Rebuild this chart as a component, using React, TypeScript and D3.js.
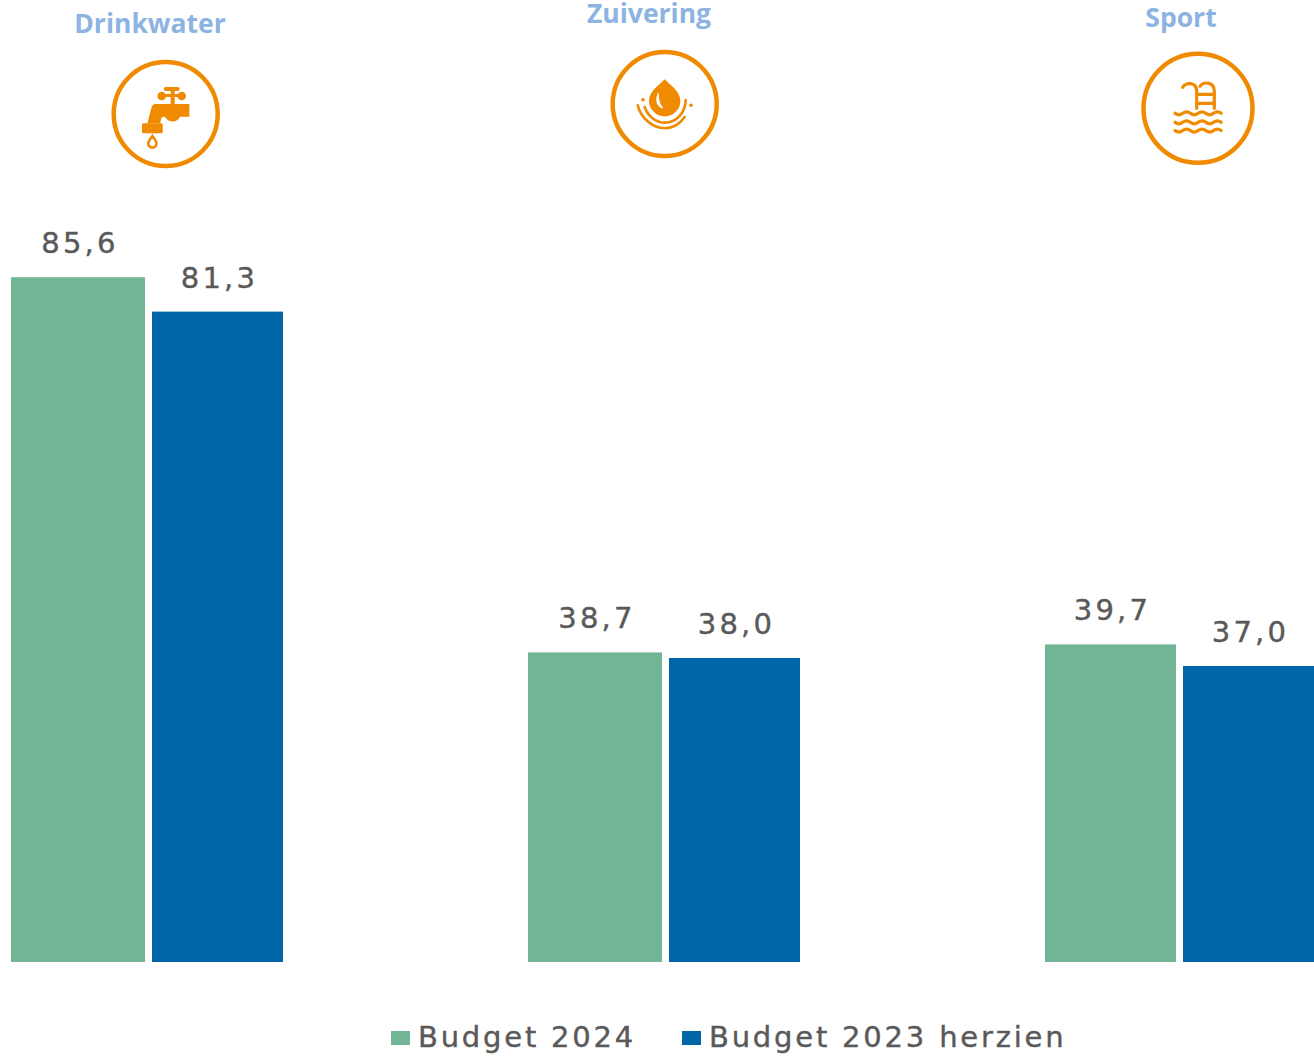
import React from 'react'
import * as d3 from 'd3'

const categories = ['Drinkwater', 'Zuivering', 'Sport']
const seriesNames = ['Budget 2024', 'Budget 2023 herzien']
const budget2024 = [85.6, 38.7, 39.7]
const budget2023 = [81.3, 38.0, 37.0]
const seriesColors = ['#72b596', '#0066a8']

const W = 1314
const H = 1056
const ORANGE = '#f08a00'
const TEXT = '#595959'
const BAR_FONT = '"DejaVu Sans", sans-serif'

const x0 = d3.scaleBand<string>().domain(categories).range([11, W]).paddingInner(248 / 517)
const y = d3.scaleLinear().domain([0, 100]).range([962, 162])
const label = d3.format('.1f')
const fmt = (v: number) => label(v).replace('.', ',')

// the first two groups have a slightly wider green bar in the picture
const greenWidth = [134, 134, 131]
const blueWidth = 131
const barGap = 7

const titlePos = [
  { x: 150, y: 33 },
  { x: 649, y: 23 },
  { x: 1181, y: 27 },
]
const iconPos = [
  { x: 165.7, y: 114, r: 52 },
  { x: 664.7, y: 104, r: 52 },
  { x: 1198, y: 108.3, r: 54.5 },
]

function Faucet() {
  return (
    <g fill={ORANGE}>
      <rect x={-2} y={-27} width={16} height={4} rx={2} />
      <circle cx={-4} cy={-18} r={4.3} />
      <circle cx={16} cy={-18} r={4.3} />
      <rect x={-4} y={-20} width={20} height={3} />
      <rect x={5} y={-24} width={4} height={14} />
      <path d="M-10.7,-10 L23.7,-10 L23.7,2.7 L14.3,2.7 C12,9 2,9 -0.7,2.7 L-4,3.3 L-5.7,9.3 L-18.3,9.3 L-15.7,-0.7 Q-14,-10 -10.7,-10 Z" />
      <rect x={-23.7} y={9.3} width={20.7} height={10} rx={1.5} />
      <path
        d="M-13.3,22 C-11,25 -9.2,27 -9.2,29.5 A4.1,4.1 0 0 1 -17.4,29.5 C-17.4,27 -15.6,25 -13.3,22 Z"
        fill="none"
        stroke={ORANGE}
        strokeWidth={2.6}
      />
    </g>
  )
}

function Droplet() {
  return (
    <g>
      <path
        d="M0,-24.7 C4,-20 15.7,-13 15.7,-3.3 A15.7,15.7 0 0 1 -15.7,-3.3 C-15.7,-13 -4,-20 0,-24.7 Z"
        fill={ORANGE}
      />
      <path d="M-6,-12 C-11,-5 -8,4 -1,4.5 C-5,0 -6,-5 -6,-12 Z" fill="#fff" />
      <g fill="none" stroke={ORANGE} strokeWidth={2.6} strokeLinecap="round">
        <path d="M-27,1.3 C-24,14 -12,24.3 0,24.3 C8,24.3 15,20 20,13" />
        <path d="M-20,3 C-17,12 -9,18.6 0,18.6 C12,18.6 21,8 21,-4" />
      </g>
      <circle cx={-21.7} cy={-4.3} r={1.8} fill={ORANGE} />
      <circle cx={26.3} cy={1.3} r={1.8} fill={ORANGE} />
    </g>
  )
}

function Pool() {
  const wave = (yy: number) =>
    `M-23,${yy} q3.8,3 7.7,0 t7.7,0 t7.7,0 t7.7,0 t7.7,0 t7.7,0`
  return (
    <g fill="none" stroke={ORANGE} strokeWidth={3.2} strokeLinecap="round">
      <path d="M-15.3,-21 C-13,-26 -1.3,-27 -1.3,-17 L-1.3,0" />
      <path d="M2,-22 C5,-27 16.3,-27 16.3,-17 L16.3,0" />
      <path d="M-1.3,-14 L16.3,-14 M-1.3,-5 L16.3,-5" />
      {[5, 14, 22.3].map(yy => (
        <path key={yy} d={wave(yy)} />
      ))}
    </g>
  )
}

const icons = [<Faucet />, <Droplet />, <Pool />]

function ValueLabel({ x, y: yy, value }: { x: number; y: number; value: number }) {
  return (
    <text
      x={x}
      y={yy}
      textAnchor="middle"
      fontFamily={BAR_FONT}
      fontSize={29}
      letterSpacing={3.2}
      fill={TEXT}
      stroke={TEXT}
      strokeWidth={0.4}
    >
      {fmt(value)}
    </text>
  )
}

function LegendItem({ x, name, color }: { x: number; name: string; color: string }) {
  return (
    <g>
      <rect x={x} y={1031} width={19} height={14} fill={color} />
      <text
        x={x + 27}
        y={1047}
        fontFamily={BAR_FONT}
        fontSize={29}
        letterSpacing={2.8}
        fill={TEXT}
        stroke={TEXT}
        strokeWidth={0.4}
      >
        {name}
      </text>
    </g>
  )
}

export default function App() {
  return (
    <svg
      width={W}
      height={H}
      viewBox={`0 0 ${W} ${H}`}
      style={{ position: 'absolute', left: 0, top: 0, background: '#fff' }}
    >
      {categories.map((c, i) => {
        const gx = x0(c) as number
        const gw = greenWidth[i]
        const bx = gx + gw + barGap
        return (
          <g key={c}>
            <text
              x={titlePos[i].x}
              y={titlePos[i].y}
              textAnchor="middle"
              fontFamily='"Open Sans", sans-serif'
              fontWeight={700}
              fontSize={26.5}
              fill="#8db3e2"
            >
              {c}
            </text>
            <g transform={`translate(${iconPos[i].x},${iconPos[i].y})`}>
              <circle r={iconPos[i].r} fill="none" stroke={ORANGE} strokeWidth={4.5} />
              {icons[i]}
            </g>
            <rect x={gx} y={y(budget2024[i])} width={gw} height={y(0) - y(budget2024[i])} fill={seriesColors[0]} />
            <rect x={bx} y={y(budget2023[i])} width={blueWidth} height={y(0) - y(budget2023[i])} fill={seriesColors[1]} />
            <ValueLabel x={gx + gw / 2 + 2} y={y(budget2024[i]) - 24} value={budget2024[i]} />
            <ValueLabel x={bx + blueWidth / 2 + 2} y={y(budget2023[i]) - 24} value={budget2023[i]} />
          </g>
        )
      })}
      <LegendItem x={391} name={seriesNames[0]} color={seriesColors[0]} />
      <LegendItem x={682} name={seriesNames[1]} color={seriesColors[1]} />
    </svg>
  )
}
